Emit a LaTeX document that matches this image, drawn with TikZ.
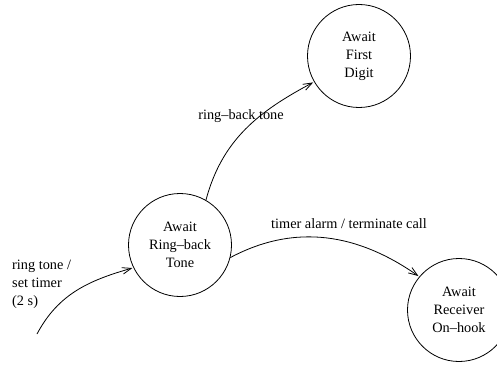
\documentclass[tikz,border=0pt]{standalone}
\usepackage{fontspec}
\setmainfont{Liberation Serif}
\usetikzlibrary{arrows.meta, positioning}

\begin{document}
\begin{tikzpicture}[
  x=1pt, y=1pt,
  state/.style={draw, circle, line width=0.8pt, minimum size=103pt, inner sep=0pt, align=center,
    font=\fontsize{14.3}{18}\selectfont},
  lbl/.style={font=\fontsize{14.3}{18}\selectfont, inner sep=0pt},
  arrow/.style={-{Straight Barb[length=9pt, width=6.5pt]}, line width=0.8pt, shorten >=1pt}
]
\useasboundingbox (0,0) rectangle (497,367);
\node[state] (ringback) at (180,122) {Await\\Ring--back\\Tone};
\node[state] (firstdigit) at (359,311) {Await\\First\\Digit};
\node[state] (onhook) at (459,57) {Await\\Receiver\\On--hook};
\coordinate (start) at (37,33);

\draw[arrow] (start) to[out=62, in=196] (ringback.206);
\draw[arrow] (ringback.60) to[out=75, in=208] (firstdigit.210);
\draw[arrow] (ringback.-14) to[out=28, in=145] (onhook.140);

\node[lbl, anchor=west, align=left] (initlbl) at (12,83) {ring tone /\\set timer\\(2 s)};
\node[lbl] (rblbl) at (241,251) {ring--back tone};
\node[lbl] (alarmlbl) at (349,143) {timer alarm / terminate call};
\end{tikzpicture}
\end{document}
